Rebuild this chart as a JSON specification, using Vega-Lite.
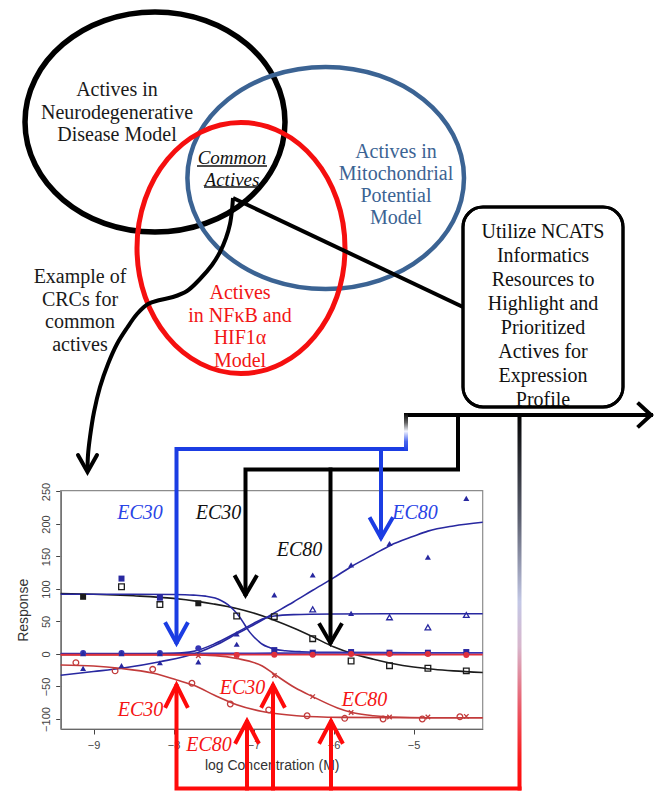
{
  "$schema": "https://vega.github.io/schema/vega-lite/v6.json",
  "width": 654,
  "height": 792,
  "autosize": "none",
  "padding": 0,
  "background": "white",
  "config": {"view": {"stroke": null}},
  "datasets": {
    "venn": [
      {"set": "neuro", "x": 155, "y": 122},
      {"set": "mito", "x": 325.7, "y": 178},
      {"set": "nfkb", "x": 241, "y": 248}
    ],
    "labels": [
      {"group": "neuro", "text": "Actives in\nNeurodegenerative\nDisease Model", "x": 117, "y": 90},
      {"group": "mito", "text": "Actives in\nMitochondrial\nPotential\nModel", "x": 396, "y": 152},
      {"group": "nfkb", "text": "Actives\nin NFκB and\nHIF1α\nModel", "x": 240, "y": 293},
      {"group": "common", "text": "Common\nActives", "x": 232, "y": 158},
      {"group": "example", "text": "Example of\nCRCs for\ncommon\nactives", "x": 80, "y": 277},
      {"group": "ncats", "text": "Utilize NCATS\nInformatics\nResources to\nHighlight and\nPrioritized\nActives for\nExpression\nProfile", "x": 543, "y": 232}
    ],
    "underlines": [
      {"x": 197, "x2": 267, "y": 166},
      {"x": 204, "x2": 259, "y": 187}
    ],
    "box": [{"x": 463, "x2": 623, "y": 207, "y2": 407}],
    "curve": [
      {"i": 0, "x": 233, "y": 198}, {"i": 1, "x": 232, "y": 210}, {"i": 2, "x": 230, "y": 224},
      {"i": 3, "x": 226, "y": 238}, {"i": 4, "x": 220, "y": 252}, {"i": 5, "x": 212, "y": 265},
      {"i": 6, "x": 200, "y": 279}, {"i": 7, "x": 187, "y": 291}, {"i": 8, "x": 173, "y": 297},
      {"i": 9, "x": 160, "y": 300}, {"i": 10, "x": 148, "y": 304}, {"i": 11, "x": 137, "y": 314},
      {"i": 12, "x": 127, "y": 328}, {"i": 13, "x": 117, "y": 344}, {"i": 14, "x": 108, "y": 364},
      {"i": 15, "x": 100, "y": 387}, {"i": 16, "x": 94, "y": 412}, {"i": 17, "x": 90, "y": 437},
      {"i": 18, "x": 88, "y": 455}, {"i": 19, "x": 87.5, "y": 470}
    ],
    "links": [
      {"c": "black", "path": "toBox", "i": 0, "x": 233, "y": 198},
      {"c": "black", "path": "toBox", "i": 1, "x": 463, "y": 307},
      {"c": "black", "path": "crcHead", "i": 0, "x": 78, "y": 455},
      {"c": "black", "path": "crcHead", "i": 1, "x": 87.5, "y": 472},
      {"c": "black", "path": "crcHead", "i": 2, "x": 97, "y": 455},
      {"c": "black", "path": "blackMain", "i": 0, "x": 458, "y": 415},
      {"c": "black", "path": "blackMain", "i": 1, "x": 458, "y": 469.5},
      {"c": "black", "path": "blackMain", "i": 2, "x": 245.5, "y": 469.5},
      {"c": "black", "path": "blackMain", "i": 3, "x": 245.5, "y": 594},
      {"c": "black", "path": "blackHeadL", "i": 0, "x": 235.5, "y": 577},
      {"c": "black", "path": "blackHeadL", "i": 1, "x": 245.5, "y": 595},
      {"c": "black", "path": "blackHeadL", "i": 2, "x": 256, "y": 577},
      {"c": "black", "path": "blackBranch", "i": 0, "x": 330.5, "y": 469.5},
      {"c": "black", "path": "blackBranch", "i": 1, "x": 330.5, "y": 642},
      {"c": "black", "path": "blackHeadR", "i": 0, "x": 320, "y": 625},
      {"c": "black", "path": "blackHeadR", "i": 1, "x": 330.5, "y": 643},
      {"c": "black", "path": "blackHeadR", "i": 2, "x": 341, "y": 625},
      {"c": "black", "path": "topLine", "i": 0, "x": 406, "y": 415},
      {"c": "black", "path": "topLine", "i": 1, "x": 651, "y": 415},
      {"c": "black", "path": "topHead", "i": 0, "x": 639, "y": 404},
      {"c": "black", "path": "topHead", "i": 1, "x": 651, "y": 415},
      {"c": "black", "path": "topHead", "i": 2, "x": 639, "y": 426},
      {"c": "blue", "path": "blueMain", "i": 0, "x": 406, "y": 449},
      {"c": "blue", "path": "blueMain", "i": 1, "x": 176.5, "y": 449},
      {"c": "blue", "path": "blueMain", "i": 2, "x": 176.5, "y": 642},
      {"c": "blue", "path": "blueHeadL", "i": 0, "x": 166, "y": 624},
      {"c": "blue", "path": "blueHeadL", "i": 1, "x": 176.5, "y": 643},
      {"c": "blue", "path": "blueHeadL", "i": 2, "x": 187, "y": 624},
      {"c": "blue", "path": "blueBranch", "i": 0, "x": 381, "y": 449},
      {"c": "blue", "path": "blueBranch", "i": 1, "x": 381, "y": 537},
      {"c": "blue", "path": "blueHeadR", "i": 0, "x": 370.5, "y": 519},
      {"c": "blue", "path": "blueHeadR", "i": 1, "x": 381, "y": 538},
      {"c": "blue", "path": "blueHeadR", "i": 2, "x": 392, "y": 519},
      {"c": "red", "path": "redMain", "i": 0, "x": 176.5, "y": 686},
      {"c": "red", "path": "redMain", "i": 1, "x": 176.5, "y": 788.5},
      {"c": "red", "path": "redMain", "i": 2, "x": 519.5, "y": 788.5},
      {"c": "red", "path": "red2", "i": 0, "x": 247, "y": 722},
      {"c": "red", "path": "red2", "i": 1, "x": 247, "y": 788.5},
      {"c": "red", "path": "red3", "i": 0, "x": 273, "y": 686},
      {"c": "red", "path": "red3", "i": 1, "x": 273, "y": 788.5},
      {"c": "red", "path": "red4", "i": 0, "x": 331, "y": 722},
      {"c": "red", "path": "red4", "i": 1, "x": 331, "y": 788.5},
      {"c": "red", "path": "redHead1", "i": 0, "x": 166, "y": 706},
      {"c": "red", "path": "redHead1", "i": 1, "x": 176.5, "y": 685},
      {"c": "red", "path": "redHead1", "i": 2, "x": 187, "y": 706},
      {"c": "red", "path": "redHead2", "i": 0, "x": 236, "y": 742},
      {"c": "red", "path": "redHead2", "i": 1, "x": 247, "y": 721},
      {"c": "red", "path": "redHead2", "i": 2, "x": 258, "y": 742},
      {"c": "red", "path": "redHead3", "i": 0, "x": 262, "y": 706},
      {"c": "red", "path": "redHead3", "i": 1, "x": 273, "y": 685},
      {"c": "red", "path": "redHead3", "i": 2, "x": 284, "y": 706},
      {"c": "red", "path": "redHead4", "i": 0, "x": 320, "y": 742},
      {"c": "red", "path": "redHead4", "i": 1, "x": 331, "y": 721},
      {"c": "red", "path": "redHead4", "i": 2, "x": 342, "y": 742}
    ],
    "bars": [
      {"bar": "long", "x": 517.5, "x2": 521.5, "y": 413, "y2": 790.5},
      {"bar": "short", "x": 404, "x2": 408, "y": 413, "y2": 451}
    ],
    "ec": [
      {"c": "blue", "t": "EC30", "x": 140, "y": 513},
      {"c": "black", "t": "EC30", "x": 218.5, "y": 513},
      {"c": "black", "t": "EC80", "x": 299.5, "y": 550},
      {"c": "blue", "t": "EC80", "x": 415, "y": 513},
      {"c": "red", "t": "EC30", "x": 140.5, "y": 710},
      {"c": "red", "t": "EC30", "x": 242.5, "y": 687.5},
      {"c": "red", "t": "EC80", "x": 209, "y": 745},
      {"c": "red", "t": "EC80", "x": 364.5, "y": 700}
    ],
    "frame": [{"x": -9.41, "x2": -4.135, "y": -115.4, "y2": 251.2}],
    "fits": [
      {"series": "black", "logc": -9.41, "resp": 93}, {"series": "black", "logc": -9.0, "resp": 92},
      {"series": "black", "logc": -8.5, "resp": 89.5}, {"series": "black", "logc": -8.0, "resp": 85.5},
      {"series": "black", "logc": -7.7, "resp": 81}, {"series": "black", "logc": -7.5, "resp": 77},
      {"series": "black", "logc": -7.21, "resp": 70}, {"series": "black", "logc": -7.0, "resp": 63},
      {"series": "black", "logc": -6.74, "resp": 52}, {"series": "black", "logc": -6.5, "resp": 40},
      {"series": "black", "logc": -6.26, "resp": 26.6}, {"series": "black", "logc": -6.0, "resp": 11},
      {"series": "black", "logc": -5.75, "resp": 0}, {"series": "black", "logc": -5.5, "resp": -8},
      {"series": "black", "logc": -5.25, "resp": -15}, {"series": "black", "logc": -5.0, "resp": -20},
      {"series": "black", "logc": -4.75, "resp": -23.5}, {"series": "black", "logc": -4.5, "resp": -26},
      {"series": "black", "logc": -4.135, "resp": -28.5},
      {"series": "blueSq", "logc": -9.41, "resp": 92}, {"series": "blueSq", "logc": -8.5, "resp": 92},
      {"series": "blueSq", "logc": -8.0, "resp": 91.5}, {"series": "blueSq", "logc": -7.75, "resp": 90.5},
      {"series": "blueSq", "logc": -7.6, "resp": 89}, {"series": "blueSq", "logc": -7.48, "resp": 86},
      {"series": "blueSq", "logc": -7.4, "resp": 82}, {"series": "blueSq", "logc": -7.32, "resp": 76},
      {"series": "blueSq", "logc": -7.25, "resp": 68}, {"series": "blueSq", "logc": -7.18, "resp": 58},
      {"series": "blueSq", "logc": -7.11, "resp": 45}, {"series": "blueSq", "logc": -7.05, "resp": 34},
      {"series": "blueSq", "logc": -7.0, "resp": 27}, {"series": "blueSq", "logc": -6.94, "resp": 20},
      {"series": "blueSq", "logc": -6.89, "resp": 15}, {"series": "blueSq", "logc": -6.8, "resp": 10},
      {"series": "blueSq", "logc": -6.74, "resp": 7.5}, {"series": "blueSq", "logc": -6.6, "resp": 5},
      {"series": "blueSq", "logc": -6.4, "resp": 3.5}, {"series": "blueSq", "logc": -6.0, "resp": 2.5},
      {"series": "blueSq", "logc": -5.0, "resp": 2}, {"series": "blueSq", "logc": -4.135, "resp": 2},
      {"series": "blueCirc", "logc": -9.41, "resp": 0.5}, {"series": "blueCirc", "logc": -7.5, "resp": 1},
      {"series": "blueCirc", "logc": -6.0, "resp": 1.5}, {"series": "blueCirc", "logc": -4.135, "resp": 2},
      {"series": "blueRise", "logc": -9.41, "resp": -32.6}, {"series": "blueRise", "logc": -9.0, "resp": -27},
      {"series": "blueRise", "logc": -8.65, "resp": -22}, {"series": "blueRise", "logc": -8.17, "resp": -12},
      {"series": "blueRise", "logc": -7.7, "resp": 2}, {"series": "blueRise", "logc": -7.45, "resp": 15},
      {"series": "blueRise", "logc": -7.21, "resp": 31}, {"series": "blueRise", "logc": -6.98, "resp": 46},
      {"series": "blueRise", "logc": -6.74, "resp": 63}, {"series": "blueRise", "logc": -6.5, "resp": 80},
      {"series": "blueRise", "logc": -6.26, "resp": 98}, {"series": "blueRise", "logc": -6.0, "resp": 117},
      {"series": "blueRise", "logc": -5.77, "resp": 135}, {"series": "blueRise", "logc": -5.5, "resp": 153},
      {"series": "blueRise", "logc": -5.29, "resp": 167}, {"series": "blueRise", "logc": -5.0, "resp": 181},
      {"series": "blueRise", "logc": -4.82, "resp": 189}, {"series": "blueRise", "logc": -4.5, "resp": 197},
      {"series": "blueRise", "logc": -4.135, "resp": 202.6},
      {"series": "bluePlat", "logc": -9.41, "resp": 0}, {"series": "bluePlat", "logc": -8.5, "resp": 0},
      {"series": "bluePlat", "logc": -8.0, "resp": 1}, {"series": "bluePlat", "logc": -7.75, "resp": 4},
      {"series": "bluePlat", "logc": -7.48, "resp": 16}, {"series": "bluePlat", "logc": -7.21, "resp": 33},
      {"series": "bluePlat", "logc": -7.0, "resp": 47}, {"series": "bluePlat", "logc": -6.89, "resp": 54},
      {"series": "bluePlat", "logc": -6.74, "resp": 58.5}, {"series": "bluePlat", "logc": -6.5, "resp": 60.5},
      {"series": "bluePlat", "logc": -6.0, "resp": 61.5}, {"series": "bluePlat", "logc": -5.0, "resp": 62},
      {"series": "bluePlat", "logc": -4.135, "resp": 62},
      {"series": "redCirc", "logc": -9.41, "resp": -17}, {"series": "redCirc", "logc": -9.0, "resp": -18.5},
      {"series": "redCirc", "logc": -8.67, "resp": -22}, {"series": "redCirc", "logc": -8.25, "resp": -29.7},
      {"series": "redCirc", "logc": -7.96, "resp": -40}, {"series": "redCirc", "logc": -7.73, "resp": -49},
      {"series": "redCirc", "logc": -7.48, "resp": -64}, {"series": "redCirc", "logc": -7.21, "resp": -78},
      {"series": "redCirc", "logc": -6.89, "resp": -88.5}, {"series": "redCirc", "logc": -6.46, "resp": -95},
      {"series": "redCirc", "logc": -5.92, "resp": -97.5}, {"series": "redCirc", "logc": -5.0, "resp": -98},
      {"series": "redCirc", "logc": -4.135, "resp": -98},
      {"series": "redX", "logc": -9.41, "resp": -1.5}, {"series": "redX", "logc": -7.73, "resp": -1.5},
      {"series": "redX", "logc": -7.48, "resp": -2.5}, {"series": "redX", "logc": -7.21, "resp": -7},
      {"series": "redX", "logc": -6.89, "resp": -18.5}, {"series": "redX", "logc": -6.74, "resp": -31},
      {"series": "redX", "logc": -6.48, "resp": -52}, {"series": "redX", "logc": -6.26, "resp": -65.6},
      {"series": "redX", "logc": -5.95, "resp": -83}, {"series": "redX", "logc": -5.77, "resp": -90},
      {"series": "redX", "logc": -5.5, "resp": -95}, {"series": "redX", "logc": -5.29, "resp": -97},
      {"series": "redX", "logc": -4.8, "resp": -98}, {"series": "redX", "logc": -4.135, "resp": -98},
      {"series": "redFlat", "logc": -9.41, "resp": -1}, {"series": "redFlat", "logc": -4.135, "resp": -1}
    ],
    "obs": [
      {"series": "black", "marker": "square", "fill": "solid", "logc": -9.13, "resp": 88},
      {"series": "black", "marker": "square", "fill": "solid", "logc": -7.69, "resp": 78},
      {"series": "black", "marker": "square", "fill": "open", "logc": -8.65, "resp": 103.5},
      {"series": "black", "marker": "square", "fill": "open", "logc": -8.17, "resp": 76},
      {"series": "black", "marker": "square", "fill": "open", "logc": -7.21, "resp": 58.5},
      {"series": "black", "marker": "square", "fill": "open", "logc": -6.74, "resp": 57.4},
      {"series": "black", "marker": "square", "fill": "open", "logc": -6.26, "resp": 23.6},
      {"series": "black", "marker": "square", "fill": "open", "logc": -5.78, "resp": -10.8},
      {"series": "black", "marker": "square", "fill": "open", "logc": -5.3, "resp": -18},
      {"series": "black", "marker": "square", "fill": "open", "logc": -4.82, "resp": -22},
      {"series": "black", "marker": "square", "fill": "open", "logc": -4.34, "resp": -26},
      {"series": "blueSq", "marker": "square", "fill": "solid", "logc": -8.65, "resp": 116},
      {"series": "blueSq", "marker": "square", "fill": "solid", "logc": -8.17, "resp": 86.6},
      {"series": "blueSq", "marker": "square", "fill": "solid", "logc": -6.74, "resp": 6},
      {"series": "blueSq", "marker": "square", "fill": "solid", "logc": -6.26, "resp": 2},
      {"series": "blueSq", "marker": "square", "fill": "solid", "logc": -5.78, "resp": 3},
      {"series": "blueSq", "marker": "square", "fill": "solid", "logc": -5.3, "resp": 2},
      {"series": "blueSq", "marker": "square", "fill": "solid", "logc": -4.82, "resp": 2},
      {"series": "blueSq", "marker": "square", "fill": "solid", "logc": -4.34, "resp": 3},
      {"series": "blueCirc", "marker": "circle", "fill": "solid", "logc": -9.13, "resp": 1.5},
      {"series": "blueCirc", "marker": "circle", "fill": "solid", "logc": -8.65, "resp": 1.5},
      {"series": "blueCirc", "marker": "circle", "fill": "solid", "logc": -8.17, "resp": 1.5},
      {"series": "blueCirc", "marker": "circle", "fill": "solid", "logc": -7.69, "resp": 9},
      {"series": "blueRise", "marker": "triangle", "fill": "solid", "logc": -9.13, "resp": -22},
      {"series": "blueRise", "marker": "triangle", "fill": "solid", "logc": -8.65, "resp": -18},
      {"series": "blueRise", "marker": "triangle", "fill": "solid", "logc": -8.17, "resp": -13.5},
      {"series": "blueRise", "marker": "triangle", "fill": "solid", "logc": -7.69, "resp": -12},
      {"series": "blueRise", "marker": "triangle", "fill": "solid", "logc": -7.21, "resp": 15},
      {"series": "blueRise", "marker": "triangle", "fill": "solid", "logc": -6.74, "resp": 91},
      {"series": "blueRise", "marker": "triangle", "fill": "solid", "logc": -6.26, "resp": 121.5},
      {"series": "blueRise", "marker": "triangle", "fill": "solid", "logc": -5.78, "resp": 137},
      {"series": "blueRise", "marker": "triangle", "fill": "solid", "logc": -5.3, "resp": 170},
      {"series": "blueRise", "marker": "triangle", "fill": "solid", "logc": -4.82, "resp": 149},
      {"series": "blueRise", "marker": "triangle", "fill": "solid", "logc": -4.34, "resp": 239.5},
      {"series": "bluePlat", "marker": "triangle", "fill": "solid", "logc": -9.13, "resp": 0.5},
      {"series": "bluePlat", "marker": "triangle", "fill": "solid", "logc": -8.65, "resp": 0.5},
      {"series": "bluePlat", "marker": "triangle", "fill": "solid", "logc": -8.17, "resp": 0.5},
      {"series": "bluePlat", "marker": "triangle", "fill": "solid", "logc": -7.21, "resp": 31},
      {"series": "bluePlat", "marker": "triangle", "fill": "open", "logc": -6.26, "resp": 68.7},
      {"series": "bluePlat", "marker": "triangle", "fill": "solid", "logc": -5.78, "resp": 62.5},
      {"series": "bluePlat", "marker": "triangle", "fill": "open", "logc": -5.3, "resp": 56.4},
      {"series": "bluePlat", "marker": "triangle", "fill": "open", "logc": -4.82, "resp": 41},
      {"series": "bluePlat", "marker": "triangle", "fill": "open", "logc": -4.34, "resp": 60},
      {"series": "redCirc", "marker": "circle", "fill": "open", "logc": -9.22, "resp": -13.3},
      {"series": "redCirc", "marker": "circle", "fill": "open", "logc": -8.73, "resp": -26},
      {"series": "redCirc", "marker": "circle", "fill": "open", "logc": -8.26, "resp": -23.6},
      {"series": "redCirc", "marker": "circle", "fill": "open", "logc": -7.77, "resp": -45},
      {"series": "redCirc", "marker": "circle", "fill": "open", "logc": -7.29, "resp": -77},
      {"series": "redCirc", "marker": "circle", "fill": "open", "logc": -6.81, "resp": -86},
      {"series": "redCirc", "marker": "circle", "fill": "open", "logc": -6.33, "resp": -95},
      {"series": "redCirc", "marker": "circle", "fill": "open", "logc": -5.86, "resp": -99},
      {"series": "redCirc", "marker": "circle", "fill": "open", "logc": -5.38, "resp": -100},
      {"series": "redCirc", "marker": "circle", "fill": "open", "logc": -4.89, "resp": -100},
      {"series": "redCirc", "marker": "circle", "fill": "open", "logc": -4.42, "resp": -96.5},
      {"series": "redX", "marker": "x", "fill": "open", "logc": -7.69, "resp": -2.6},
      {"series": "redX", "marker": "x", "fill": "open", "logc": -7.21, "resp": -2},
      {"series": "redX", "marker": "x", "fill": "open", "logc": -6.74, "resp": -33},
      {"series": "redX", "marker": "x", "fill": "open", "logc": -6.26, "resp": -65.6},
      {"series": "redX", "marker": "x", "fill": "open", "logc": -5.78, "resp": -90},
      {"series": "redX", "marker": "x", "fill": "open", "logc": -5.3, "resp": -97},
      {"series": "redX", "marker": "x", "fill": "open", "logc": -4.82, "resp": -97},
      {"series": "redX", "marker": "x", "fill": "open", "logc": -4.34, "resp": -96},
      {"series": "redFlat", "marker": "circle", "fill": "solid", "logc": -7.21, "resp": -1.5},
      {"series": "redFlat", "marker": "circle", "fill": "solid", "logc": -6.74, "resp": -1},
      {"series": "redFlat", "marker": "circle", "fill": "solid", "logc": -6.26, "resp": -1},
      {"series": "redFlat", "marker": "circle", "fill": "solid", "logc": -5.78, "resp": 0},
      {"series": "redFlat", "marker": "circle", "fill": "solid", "logc": -5.3, "resp": 0},
      {"series": "redFlat", "marker": "circle", "fill": "solid", "logc": -4.82, "resp": 0},
      {"series": "redFlat", "marker": "circle", "fill": "solid", "logc": -4.34, "resp": -1.5}
    ]
  },
  "resolve": {
    "scale": {"x": "independent", "y": "independent", "color": "independent", "shape": "independent"},
    "axis": {"x": "independent", "y": "independent"}
  },
  "layer": [
    {
      "data": {"name": "venn"},
      "transform": [{"filter": "datum.set === 'neuro'"}],
      "mark": {"type": "point", "shape": "M-130,0A130,110 0 1,1 130,0A130,110 0 1,1 -130,0Z", "size": 4, "filled": false, "stroke": "#000000", "strokeWidth": 5.5, "opacity": 1},
      "encoding": {
        "x": {"field": "x", "type": "quantitative", "scale": {"domain": [0, 654], "range": [0, 654], "nice": false, "zero": false}, "axis": null},
        "y": {"field": "y", "type": "quantitative", "scale": {"domain": [0, 792], "range": [0, 792], "nice": false, "zero": false}, "axis": null}
      }
    },
    {
      "data": {"name": "venn"},
      "transform": [{"filter": "datum.set === 'mito'"}],
      "mark": {"type": "point", "shape": "M-138.3,0A138.3,111 0 1,1 138.3,0A138.3,111 0 1,1 -138.3,0Z", "size": 4, "filled": false, "stroke": "#3b6393", "strokeWidth": 4.5, "opacity": 1},
      "encoding": {
        "x": {"field": "x", "type": "quantitative", "scale": {"domain": [0, 654], "range": [0, 654], "nice": false, "zero": false}, "axis": null},
        "y": {"field": "y", "type": "quantitative", "scale": {"domain": [0, 792], "range": [0, 792], "nice": false, "zero": false}, "axis": null}
      }
    },
    {
      "data": {"name": "venn"},
      "transform": [{"filter": "datum.set === 'nfkb'"}],
      "mark": {"type": "point", "shape": "M-104,0A104,125.5 0 1,1 104,0A104,125.5 0 1,1 -104,0Z", "size": 4, "filled": false, "stroke": "#f50f0f", "strokeWidth": 5, "opacity": 1},
      "encoding": {
        "x": {"field": "x", "type": "quantitative", "scale": {"domain": [0, 654], "range": [0, 654], "nice": false, "zero": false}, "axis": null},
        "y": {"field": "y", "type": "quantitative", "scale": {"domain": [0, 792], "range": [0, 792], "nice": false, "zero": false}, "axis": null}
      }
    },
    {
      "data": {"name": "labels"},
      "transform": [{"filter": "datum.group === 'neuro' || datum.group === 'example'"}],
      "mark": {"type": "text", "font": "Liberation Serif", "fontSize": 20, "lineBreak": "\n", "lineHeight": 22.5, "align": "center", "baseline": "middle", "color": "#1a1a1a"},
      "encoding": {
        "text": {"field": "text"},
        "x": {"field": "x", "type": "quantitative", "scale": {"domain": [0, 654], "range": [0, 654], "nice": false, "zero": false}, "axis": null},
        "y": {"field": "y", "type": "quantitative", "scale": {"domain": [0, 792], "range": [0, 792], "nice": false, "zero": false}, "axis": null}
      }
    },
    {
      "data": {"name": "labels"},
      "transform": [{"filter": "datum.group === 'mito'"}],
      "mark": {"type": "text", "font": "Liberation Serif", "fontSize": 20, "lineBreak": "\n", "lineHeight": 22, "align": "center", "baseline": "middle", "color": "#3b6393"},
      "encoding": {
        "text": {"field": "text"},
        "x": {"field": "x", "type": "quantitative", "scale": {"domain": [0, 654], "range": [0, 654], "nice": false, "zero": false}, "axis": null},
        "y": {"field": "y", "type": "quantitative", "scale": {"domain": [0, 792], "range": [0, 792], "nice": false, "zero": false}, "axis": null}
      }
    },
    {
      "data": {"name": "labels"},
      "transform": [{"filter": "datum.group === 'nfkb'"}],
      "mark": {"type": "text", "font": "Liberation Serif", "fontSize": 20, "lineBreak": "\n", "lineHeight": 22.6, "align": "center", "baseline": "middle", "color": "#f21515"},
      "encoding": {
        "text": {"field": "text"},
        "x": {"field": "x", "type": "quantitative", "scale": {"domain": [0, 654], "range": [0, 654], "nice": false, "zero": false}, "axis": null},
        "y": {"field": "y", "type": "quantitative", "scale": {"domain": [0, 792], "range": [0, 792], "nice": false, "zero": false}, "axis": null}
      }
    },
    {
      "data": {"name": "labels"},
      "transform": [{"filter": "datum.group === 'common'"}],
      "mark": {"type": "text", "font": "Liberation Serif", "fontSize": 19, "fontStyle": "italic", "lineBreak": "\n", "lineHeight": 22, "align": "center", "baseline": "middle", "color": "#111111"},
      "encoding": {
        "text": {"field": "text"},
        "x": {"field": "x", "type": "quantitative", "scale": {"domain": [0, 654], "range": [0, 654], "nice": false, "zero": false}, "axis": null},
        "y": {"field": "y", "type": "quantitative", "scale": {"domain": [0, 792], "range": [0, 792], "nice": false, "zero": false}, "axis": null}
      }
    },
    {
      "data": {"name": "underlines"},
      "mark": {"type": "rule", "color": "#111111", "strokeWidth": 1.5},
      "encoding": {
        "x": {"field": "x", "type": "quantitative", "scale": {"domain": [0, 654], "range": [0, 654], "nice": false, "zero": false}, "axis": null},
        "x2": {"field": "x2"},
        "y": {"field": "y", "type": "quantitative", "scale": {"domain": [0, 792], "range": [0, 792], "nice": false, "zero": false}, "axis": null}
      }
    },
    {
      "data": {"name": "links"},
      "transform": [{"filter": "datum.path === 'toBox'"}],
      "mark": {"type": "line", "color": "#000000", "strokeWidth": 4, "strokeCap": "butt"},
      "encoding": {
        "x": {"field": "x", "type": "quantitative", "scale": {"domain": [0, 654], "range": [0, 654], "nice": false, "zero": false}, "axis": null},
        "y": {"field": "y", "type": "quantitative", "scale": {"domain": [0, 792], "range": [0, 792], "nice": false, "zero": false}, "axis": null},
        "detail": {"field": "path"},
        "order": {"field": "i", "type": "quantitative"}
      }
    },
    {
      "data": {"name": "box"},
      "mark": {"type": "rect", "fill": "white", "stroke": "#000000", "strokeWidth": 3, "cornerRadius": 20},
      "encoding": {
        "x": {"field": "x", "type": "quantitative", "scale": {"domain": [0, 654], "range": [0, 654], "nice": false, "zero": false}, "axis": null},
        "x2": {"field": "x2"},
        "y": {"field": "y", "type": "quantitative", "scale": {"domain": [0, 792], "range": [0, 792], "nice": false, "zero": false}, "axis": null},
        "y2": {"field": "y2"}
      }
    },
    {
      "data": {"name": "labels"},
      "transform": [{"filter": "datum.group === 'ncats'"}],
      "mark": {"type": "text", "font": "Liberation Serif", "fontSize": 20, "lineBreak": "\n", "lineHeight": 24, "align": "center", "baseline": "middle", "color": "#111111"},
      "encoding": {
        "text": {"field": "text"},
        "x": {"field": "x", "type": "quantitative", "scale": {"domain": [0, 654], "range": [0, 654], "nice": false, "zero": false}, "axis": null},
        "y": {"field": "y", "type": "quantitative", "scale": {"domain": [0, 792], "range": [0, 792], "nice": false, "zero": false}, "axis": null}
      }
    },
    {
      "data": {"name": "box"},
      "mark": {"type": "rect", "filled": false, "stroke": "#000000", "strokeWidth": 3, "cornerRadius": 20},
      "encoding": {
        "x": {"field": "x", "type": "quantitative", "scale": {"domain": [0, 654], "range": [0, 654], "nice": false, "zero": false}, "axis": null},
        "x2": {"field": "x2"},
        "y": {"field": "y", "type": "quantitative", "scale": {"domain": [0, 792], "range": [0, 792], "nice": false, "zero": false}, "axis": null},
        "y2": {"field": "y2"}
      }
    },
    {
      "data": {"name": "curve"},
      "mark": {"type": "line", "color": "#000000", "strokeWidth": 4, "interpolate": "catmull-rom", "strokeCap": "butt"},
      "encoding": {
        "x": {"field": "x", "type": "quantitative", "scale": {"domain": [0, 654], "range": [0, 654], "nice": false, "zero": false}, "axis": null},
        "y": {"field": "y", "type": "quantitative", "scale": {"domain": [0, 792], "range": [0, 792], "nice": false, "zero": false}, "axis": null},
        "order": {"field": "i", "type": "quantitative"}
      }
    },
    {
      "data": {"name": "links"},
      "transform": [{"filter": "datum.path === 'crcHead'"}],
      "mark": {"type": "line", "color": "#000000", "strokeWidth": 4, "strokeCap": "round", "strokeJoin": "miter"},
      "encoding": {
        "x": {"field": "x", "type": "quantitative", "scale": {"domain": [0, 654], "range": [0, 654], "nice": false, "zero": false}, "axis": null},
        "y": {"field": "y", "type": "quantitative", "scale": {"domain": [0, 792], "range": [0, 792], "nice": false, "zero": false}, "axis": null},
        "detail": {"field": "path"},
        "order": {"field": "i", "type": "quantitative"}
      }
    },
    {
      "data": {"name": "frame"},
      "mark": {"type": "rect", "filled": false, "stroke": "#8c8c8c", "strokeWidth": 1.2},
      "encoding": {
        "x": {
          "field": "x", "type": "quantitative",
          "scale": {"domain": [-9.41, -4.135], "range": [60.7, 482.7], "nice": false, "zero": false},
          "axis": {
            "orient": "bottom", "offset": -63, "values": [-9, -8, -7, -6, -5], "format": "d",
            "title": "log Concentration (M)", "grid": false,
            "domain": true, "domainColor": "#444444", "domainWidth": 1.2,
            "ticks": true, "tickSize": 5, "tickColor": "#444444", "tickWidth": 1,
            "labelFont": "Liberation Sans", "labelFontSize": 11, "labelColor": "#444444", "labelPadding": 5, "labelFlush": false, "labelOverlap": false,
            "titleFont": "Liberation Sans", "titleFontSize": 14, "titleFontWeight": "normal", "titleColor": "#333333", "titlePadding": 8
          }
        },
        "x2": {"field": "x2"},
        "y": {
          "field": "y", "type": "quantitative",
          "scale": {"domain": [-115.4, 251.2], "range": [729, 490.7], "nice": false, "zero": false},
          "axis": {
            "orient": "left", "offset": -60.7, "values": [-100, -50, 0, 50, 100, 150, 200, 250], "format": "d",
            "title": "Response", "grid": false,
            "domain": true, "domainColor": "#444444", "domainWidth": 1.2,
            "ticks": true, "tickSize": 5, "tickColor": "#444444", "tickWidth": 1,
            "labelFont": "Liberation Sans", "labelFontSize": 11, "labelColor": "#444444", "labelPadding": 4,
            "labelAngle": -90, "labelAlign": "center", "labelBaseline": "bottom", "labelFlush": false, "labelOverlap": false,
            "titleFont": "Liberation Sans", "titleFontSize": 14, "titleFontWeight": "normal", "titleColor": "#333333", "titlePadding": 10
          }
        },
        "y2": {"field": "y2"}
      }
    },
    {
      "data": {"name": "fits"},
      "mark": {"type": "line", "strokeWidth": 1.6, "interpolate": "monotone"},
      "encoding": {
        "x": {"field": "logc", "type": "quantitative", "scale": {"domain": [-9.41, -4.135], "range": [60.7, 482.7], "nice": false, "zero": false}, "axis": null},
        "y": {"field": "resp", "type": "quantitative", "scale": {"domain": [-115.4, 251.2], "range": [729, 490.7], "nice": false, "zero": false}, "axis": null},
        "color": {
          "field": "series", "type": "nominal", "legend": null,
          "scale": {
            "domain": ["black", "blueSq", "blueCirc", "blueRise", "bluePlat", "redCirc", "redX", "redFlat"],
            "range": ["#1c1c1c", "#2828a0", "#3535b5", "#2828a0", "#2828a0", "#c23b3b", "#c23b3b", "#e0303c"]
          }
        }
      }
    },
    {
      "data": {"name": "obs"},
      "transform": [{"filter": "datum.fill === 'open'"}],
      "mark": {"type": "point", "filled": false, "size": 32, "strokeWidth": 1.3, "opacity": 1},
      "encoding": {
        "x": {"field": "logc", "type": "quantitative", "scale": {"domain": [-9.41, -4.135], "range": [60.7, 482.7], "nice": false, "zero": false}, "axis": null},
        "y": {"field": "resp", "type": "quantitative", "scale": {"domain": [-115.4, 251.2], "range": [729, 490.7], "nice": false, "zero": false}, "axis": null},
        "shape": {
          "field": "marker", "type": "nominal", "legend": null,
          "scale": {"domain": ["square", "circle", "triangle", "x"], "range": ["square", "circle", "triangle-up", "M-0.8,-0.8L0.8,0.8M0.8,-0.8L-0.8,0.8"]}
        },
        "color": {
          "field": "series", "type": "nominal", "legend": null,
          "scale": {
            "domain": ["black", "blueSq", "blueCirc", "blueRise", "bluePlat", "redCirc", "redX", "redFlat"],
            "range": ["#1c1c1c", "#2828a0", "#3535b5", "#2828a0", "#2828a0", "#c23b3b", "#c23b3b", "#e0303c"]
          }
        }
      }
    },
    {
      "data": {"name": "obs"},
      "transform": [{"filter": "datum.fill === 'solid'"}],
      "mark": {"type": "point", "filled": true, "size": 36, "opacity": 1},
      "encoding": {
        "x": {"field": "logc", "type": "quantitative", "scale": {"domain": [-9.41, -4.135], "range": [60.7, 482.7], "nice": false, "zero": false}, "axis": null},
        "y": {"field": "resp", "type": "quantitative", "scale": {"domain": [-115.4, 251.2], "range": [729, 490.7], "nice": false, "zero": false}, "axis": null},
        "shape": {
          "field": "marker", "type": "nominal", "legend": null,
          "scale": {"domain": ["square", "circle", "triangle", "x"], "range": ["square", "circle", "triangle-up", "M-0.8,-0.8L0.8,0.8M0.8,-0.8L-0.8,0.8"]}
        },
        "color": {
          "field": "series", "type": "nominal", "legend": null,
          "scale": {
            "domain": ["black", "blueSq", "blueCirc", "blueRise", "bluePlat", "redCirc", "redX", "redFlat"],
            "range": ["#1c1c1c", "#2828a0", "#3535b5", "#2828a0", "#2828a0", "#c23b3b", "#c23b3b", "#e0303c"]
          }
        }
      }
    },
    {
      "data": {"name": "links"},
      "transform": [{"filter": "datum.c === 'black' && datum.path !== 'toBox' && datum.path !== 'crcHead'"}],
      "mark": {"type": "line", "color": "#000000", "strokeWidth": 4, "strokeCap": "square", "strokeJoin": "miter"},
      "encoding": {
        "x": {"field": "x", "type": "quantitative", "scale": {"domain": [0, 654], "range": [0, 654], "nice": false, "zero": false}, "axis": null},
        "y": {"field": "y", "type": "quantitative", "scale": {"domain": [0, 792], "range": [0, 792], "nice": false, "zero": false}, "axis": null},
        "detail": {"field": "path"},
        "order": {"field": "i", "type": "quantitative"}
      }
    },
    {
      "data": {"name": "links"},
      "transform": [{"filter": "datum.c === 'blue'"}],
      "mark": {"type": "line", "color": "#1b3de3", "strokeWidth": 4, "strokeCap": "square", "strokeJoin": "miter"},
      "encoding": {
        "x": {"field": "x", "type": "quantitative", "scale": {"domain": [0, 654], "range": [0, 654], "nice": false, "zero": false}, "axis": null},
        "y": {"field": "y", "type": "quantitative", "scale": {"domain": [0, 792], "range": [0, 792], "nice": false, "zero": false}, "axis": null},
        "detail": {"field": "path"},
        "order": {"field": "i", "type": "quantitative"}
      }
    },
    {
      "data": {"name": "bars"},
      "transform": [{"filter": "datum.bar === 'long'"}],
      "mark": {
        "type": "rect",
        "color": {
          "gradient": "linear", "x1": 0, "y1": 0, "x2": 0, "y2": 1,
          "stops": [
            {"offset": 0, "color": "#000000"},
            {"offset": 0.28, "color": "#5c6070"},
            {"offset": 0.5, "color": "#c3c8e6"},
            {"offset": 0.62, "color": "#d8b6cc"},
            {"offset": 0.78, "color": "#ea5a68"},
            {"offset": 0.92, "color": "#fa1818"},
            {"offset": 1, "color": "#ff0a0a"}
          ]
        }
      },
      "encoding": {
        "x": {"field": "x", "type": "quantitative", "scale": {"domain": [0, 654], "range": [0, 654], "nice": false, "zero": false}, "axis": null},
        "x2": {"field": "x2"},
        "y": {"field": "y", "type": "quantitative", "scale": {"domain": [0, 792], "range": [0, 792], "nice": false, "zero": false}, "axis": null},
        "y2": {"field": "y2"}
      }
    },
    {
      "data": {"name": "bars"},
      "transform": [{"filter": "datum.bar === 'short'"}],
      "mark": {
        "type": "rect",
        "color": {
          "gradient": "linear", "x1": 0, "y1": 0, "x2": 0, "y2": 1,
          "stops": [
            {"offset": 0, "color": "#000000"},
            {"offset": 0.25, "color": "#606060"},
            {"offset": 0.48, "color": "#f4f6ff"},
            {"offset": 0.75, "color": "#4a66ee"},
            {"offset": 1, "color": "#1b3de3"}
          ]
        }
      },
      "encoding": {
        "x": {"field": "x", "type": "quantitative", "scale": {"domain": [0, 654], "range": [0, 654], "nice": false, "zero": false}, "axis": null},
        "x2": {"field": "x2"},
        "y": {"field": "y", "type": "quantitative", "scale": {"domain": [0, 792], "range": [0, 792], "nice": false, "zero": false}, "axis": null},
        "y2": {"field": "y2"}
      }
    },
    {
      "data": {"name": "links"},
      "transform": [{"filter": "datum.c === 'red'"}],
      "mark": {"type": "line", "color": "#ff0a0a", "strokeWidth": 4, "strokeCap": "square", "strokeJoin": "miter"},
      "encoding": {
        "x": {"field": "x", "type": "quantitative", "scale": {"domain": [0, 654], "range": [0, 654], "nice": false, "zero": false}, "axis": null},
        "y": {"field": "y", "type": "quantitative", "scale": {"domain": [0, 792], "range": [0, 792], "nice": false, "zero": false}, "axis": null},
        "detail": {"field": "path"},
        "order": {"field": "i", "type": "quantitative"}
      }
    },
    {
      "data": {"name": "ec"},
      "transform": [{"filter": "datum.c === 'blue'"}],
      "mark": {"type": "text", "font": "Liberation Serif", "fontSize": 20, "fontStyle": "italic", "align": "center", "baseline": "middle", "color": "#2a44e6"},
      "encoding": {
        "text": {"field": "t"},
        "x": {"field": "x", "type": "quantitative", "scale": {"domain": [0, 654], "range": [0, 654], "nice": false, "zero": false}, "axis": null},
        "y": {"field": "y", "type": "quantitative", "scale": {"domain": [0, 792], "range": [0, 792], "nice": false, "zero": false}, "axis": null}
      }
    },
    {
      "data": {"name": "ec"},
      "transform": [{"filter": "datum.c === 'black'"}],
      "mark": {"type": "text", "font": "Liberation Serif", "fontSize": 20, "fontStyle": "italic", "align": "center", "baseline": "middle", "color": "#111111"},
      "encoding": {
        "text": {"field": "t"},
        "x": {"field": "x", "type": "quantitative", "scale": {"domain": [0, 654], "range": [0, 654], "nice": false, "zero": false}, "axis": null},
        "y": {"field": "y", "type": "quantitative", "scale": {"domain": [0, 792], "range": [0, 792], "nice": false, "zero": false}, "axis": null}
      }
    },
    {
      "data": {"name": "ec"},
      "transform": [{"filter": "datum.c === 'red'"}],
      "mark": {"type": "text", "font": "Liberation Serif", "fontSize": 20, "fontStyle": "italic", "align": "center", "baseline": "middle", "color": "#f51414"},
      "encoding": {
        "text": {"field": "t"},
        "x": {"field": "x", "type": "quantitative", "scale": {"domain": [0, 654], "range": [0, 654], "nice": false, "zero": false}, "axis": null},
        "y": {"field": "y", "type": "quantitative", "scale": {"domain": [0, 792], "range": [0, 792], "nice": false, "zero": false}, "axis": null}
      }
    }
  ]
}
